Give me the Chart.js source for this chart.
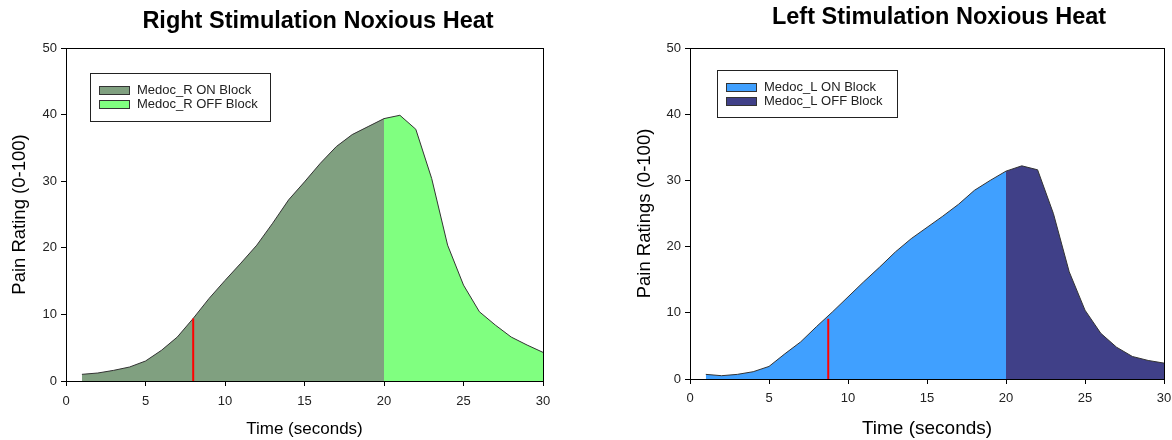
<!DOCTYPE html>
<html lang="en">
<head>
    <meta charset="UTF-8">
    <title>Noxious Heat Pain Ratings</title>
    <style>
        body {
            margin: 0;
            padding: 0;
            background: #fff;
            font-family: "Liberation Sans", Arial, sans-serif;
        }

        .wrap {
            position: relative;
            width: 1172px;
            height: 440px;
        }

        canvas {
            position: absolute;
            top: 0;
        }

        #right-chart { left: 0; }
        #left-chart { left: 590px; }
    </style>
</head>
<body>
<div class="wrap">
    <canvas id="right-chart" width="590" height="440"></canvas>
    <canvas id="left-chart" width="582" height="440"></canvas>
</div>

<script src="https://cdn.jsdelivr.net/npm/chart.js"></script>
<script>
    // time points (seconds)
    var times = [1, 2, 3, 4, 5, 6, 7, 8, 9, 10, 11, 12, 13, 14, 15,
        16, 17, 18, 19, 20, 21, 22, 23, 24, 25, 26, 27, 28, 29, 30];

    // mean pain rating, right-side stimulation
    var rightRatings = [1.0, 1.2, 1.6, 2.1, 3.0, 4.6, 6.6, 9.4, 12.4, 15.1, 17.7, 20.4, 23.7, 27.2, 29.9,
        32.7, 35.2, 37.0, 38.2, 39.4, 39.9, 37.8, 30.4, 20.4, 14.4, 10.4, 8.4, 6.6, 5.4, 4.3];

    // mean pain rating, left-side stimulation
    var leftRatings = [0.7, 0.5, 0.7, 1.1, 1.9, 3.8, 5.6, 7.9, 10.1, 12.4, 14.7, 16.9, 19.2, 21.2, 22.9,
        24.6, 26.4, 28.5, 30.0, 31.4, 32.2, 31.6, 25.0, 16.2, 10.4, 6.9, 4.8, 3.4, 2.8, 2.4];

    var blockEnd = 20;                 // ON block ends here, OFF block after
    var rightMarker = [8, 9.4];        // red marker: time, rating
    var leftMarker = [8.75, 9.1];

    var xTicks = [0, 5, 10, 15, 20, 25, 30];
    var yTicks = [0, 10, 20, 30, 40, 50];

    var FONT = '"Liberation Sans", Arial, sans-serif';

    function segment(values, from, to) {
        var pts = [];
        for (var i = 0; i < times.length; i++) {
            if (times[i] >= from && times[i] <= to) {
                pts.push({x: times[i], y: values[i]});
            }
        }
        return pts;
    }

    // title, frame and in-plot legend
    var decorPlugin = {
        id: 'decor',
        afterDraw: function (chart, args, opts) {
            var ctx = chart.ctx;
            var a = chart.chartArea;
            ctx.save();

            ctx.strokeStyle = '#000';
            ctx.lineWidth = 1;
            ctx.strokeRect(Math.round(a.left) + 0.5, Math.round(a.top) + 0.5,
                Math.round(a.right - a.left), Math.round(a.bottom - a.top));

            ctx.fillStyle = '#000';
            ctx.font = 'bold ' + opts.titleSize + 'px ' + FONT;
            ctx.textAlign = 'center';
            ctx.textBaseline = 'alphabetic';
            ctx.fillText(opts.title, opts.titleX, opts.titleY);

            var L = opts.legend;
            ctx.fillStyle = '#fff';
            ctx.fillRect(L.x, L.y, L.w, L.h);
            ctx.strokeStyle = '#222';
            ctx.strokeRect(L.x + 0.5, L.y + 0.5, L.w, L.h);
            ctx.font = '13px ' + FONT;
            ctx.textAlign = 'left';
            ctx.textBaseline = 'middle';
            for (var i = 0; i < 2; i++) {
                var ds = chart.data.datasets[i];
                var top = L.y + 13 + i * 14;
                ctx.fillStyle = ds.backgroundColor;
                ctx.fillRect(L.x + 9.5, top + 0.5, 30, 8);
                ctx.strokeStyle = '#333';
                ctx.strokeRect(L.x + 9.5, top + 0.5, 30, 8);
                ctx.fillStyle = '#222';
                ctx.fillText(ds.label, L.x + 47, top + 4.5);
            }
            ctx.restore();
        }
    };

    function makeChart(id, cfg) {
        var ctx = document.getElementById(id).getContext('2d');
        return new Chart(ctx, {
            type: 'line',
            data: {
                datasets: [{
                    label: cfg.onLabel,
                    data: segment(cfg.values, 0, blockEnd),
                    backgroundColor: cfg.onColor,
                    borderColor: '#333',
                    borderWidth: 1,
                    fill: 'origin',
                    pointRadius: 0,
                    tension: 0
                }, {
                    label: cfg.offLabel,
                    data: segment(cfg.values, blockEnd, 99),
                    backgroundColor: cfg.offColor,
                    borderColor: '#333',
                    borderWidth: 1,
                    fill: 'origin',
                    pointRadius: 0,
                    tension: 0
                }, {
                    label: 'marker',
                    data: [{x: cfg.marker[0], y: 0}, {x: cfg.marker[0], y: cfg.marker[1]}],
                    borderColor: '#ff0000',
                    borderWidth: 2,
                    fill: false,
                    pointRadius: 0,
                    order: -1
                }]
            },
            options: {
                responsive: false,
                animation: false,
                layout: {padding: {top: 48, right: cfg.padRight, left: 0, bottom: 0}},
                plugins: {
                    legend: {display: false},
                    tooltip: {enabled: false},
                    decor: cfg.decor
                },
                scales: {
                    x: {
                        type: 'linear',
                        min: 0,
                        max: 30,
                        afterBuildTicks: function (s) {
                            s.ticks = xTicks.map(function (v) { return {value: v}; });
                        },
                        afterFit: function (s) {
                            s.height = cfg.xHeight;
                            s.paddingLeft = 0;
                            s.paddingRight = 0;
                        },
                        border: {display: true, color: '#000', width: 1},
                        grid: {drawOnChartArea: false, drawTicks: true, tickLength: 5, color: '#000'},
                        ticks: {color: '#222', padding: cfg.xTickPad, maxRotation: 0, font: {family: FONT, size: 13}},
                        title: {
                            display: true,
                            text: 'Time (seconds)',
                            color: '#000',
                            padding: {top: cfg.xTitlePad, bottom: 0},
                            font: {family: FONT, size: cfg.xTitleSize}
                        }
                    },
                    y: {
                        min: 0,
                        max: 50,
                        afterBuildTicks: function (s) {
                            s.ticks = yTicks.map(function (v) { return {value: v}; });
                        },
                        afterFit: function (s) { s.width = cfg.yWidth; },
                        border: {display: true, color: '#000', width: 1},
                        grid: {drawOnChartArea: false, drawTicks: true, tickLength: 5, color: '#000'},
                        ticks: {color: '#222', padding: 4, font: {family: FONT, size: 13}},
                        title: {
                            display: true,
                            text: cfg.yTitle,
                            color: '#000',
                            padding: {top: cfg.yTitlePad, bottom: 0},
                            font: {family: FONT, size: cfg.yTitleSize}
                        }
                    }
                }
            },
            plugins: [decorPlugin]
        });
    }

    makeChart('right-chart', {
        values: rightRatings,
        marker: rightMarker,
        onLabel: 'Medoc_R ON Block',
        offLabel: 'Medoc_R OFF Block',
        onColor: '#80a080',
        offColor: '#80ff80',
        yTitle: 'Pain Rating (0-100)',
        yWidth: 66,
        xHeight: 59,
        padRight: 47,
        xTickPad: 8,
        xTitlePad: 9,
        xTitleSize: 17,
        yTitlePad: 9,
        yTitleSize: 18.5,
        decor: {
            title: 'Right Stimulation Noxious Heat', titleX: 318, titleY: 28, titleSize: 23.5,
            legend: {x: 90, y: 73, w: 180, h: 48}
        }
    });

    makeChart('left-chart', {
        values: leftRatings,
        marker: leftMarker,
        onLabel: 'Medoc_L ON Block',
        offLabel: 'Medoc_L OFF Block',
        onColor: '#40a0ff',
        offColor: '#404088',
        yTitle: 'Pain Ratings (0-100)',
        yWidth: 100,
        xHeight: 61,
        padRight: 8,
        xTickPad: 7,
        xTitlePad: 9,
        xTitleSize: 19,
        yTitlePad: 44,
        yTitleSize: 18.5,
        decor: {
            title: 'Left Stimulation Noxious Heat', titleX: 349, titleY: 24, titleSize: 23.5,
            legend: {x: 127, y: 70, w: 180, h: 47}
        }
    });
</script>
</body>
</html>
